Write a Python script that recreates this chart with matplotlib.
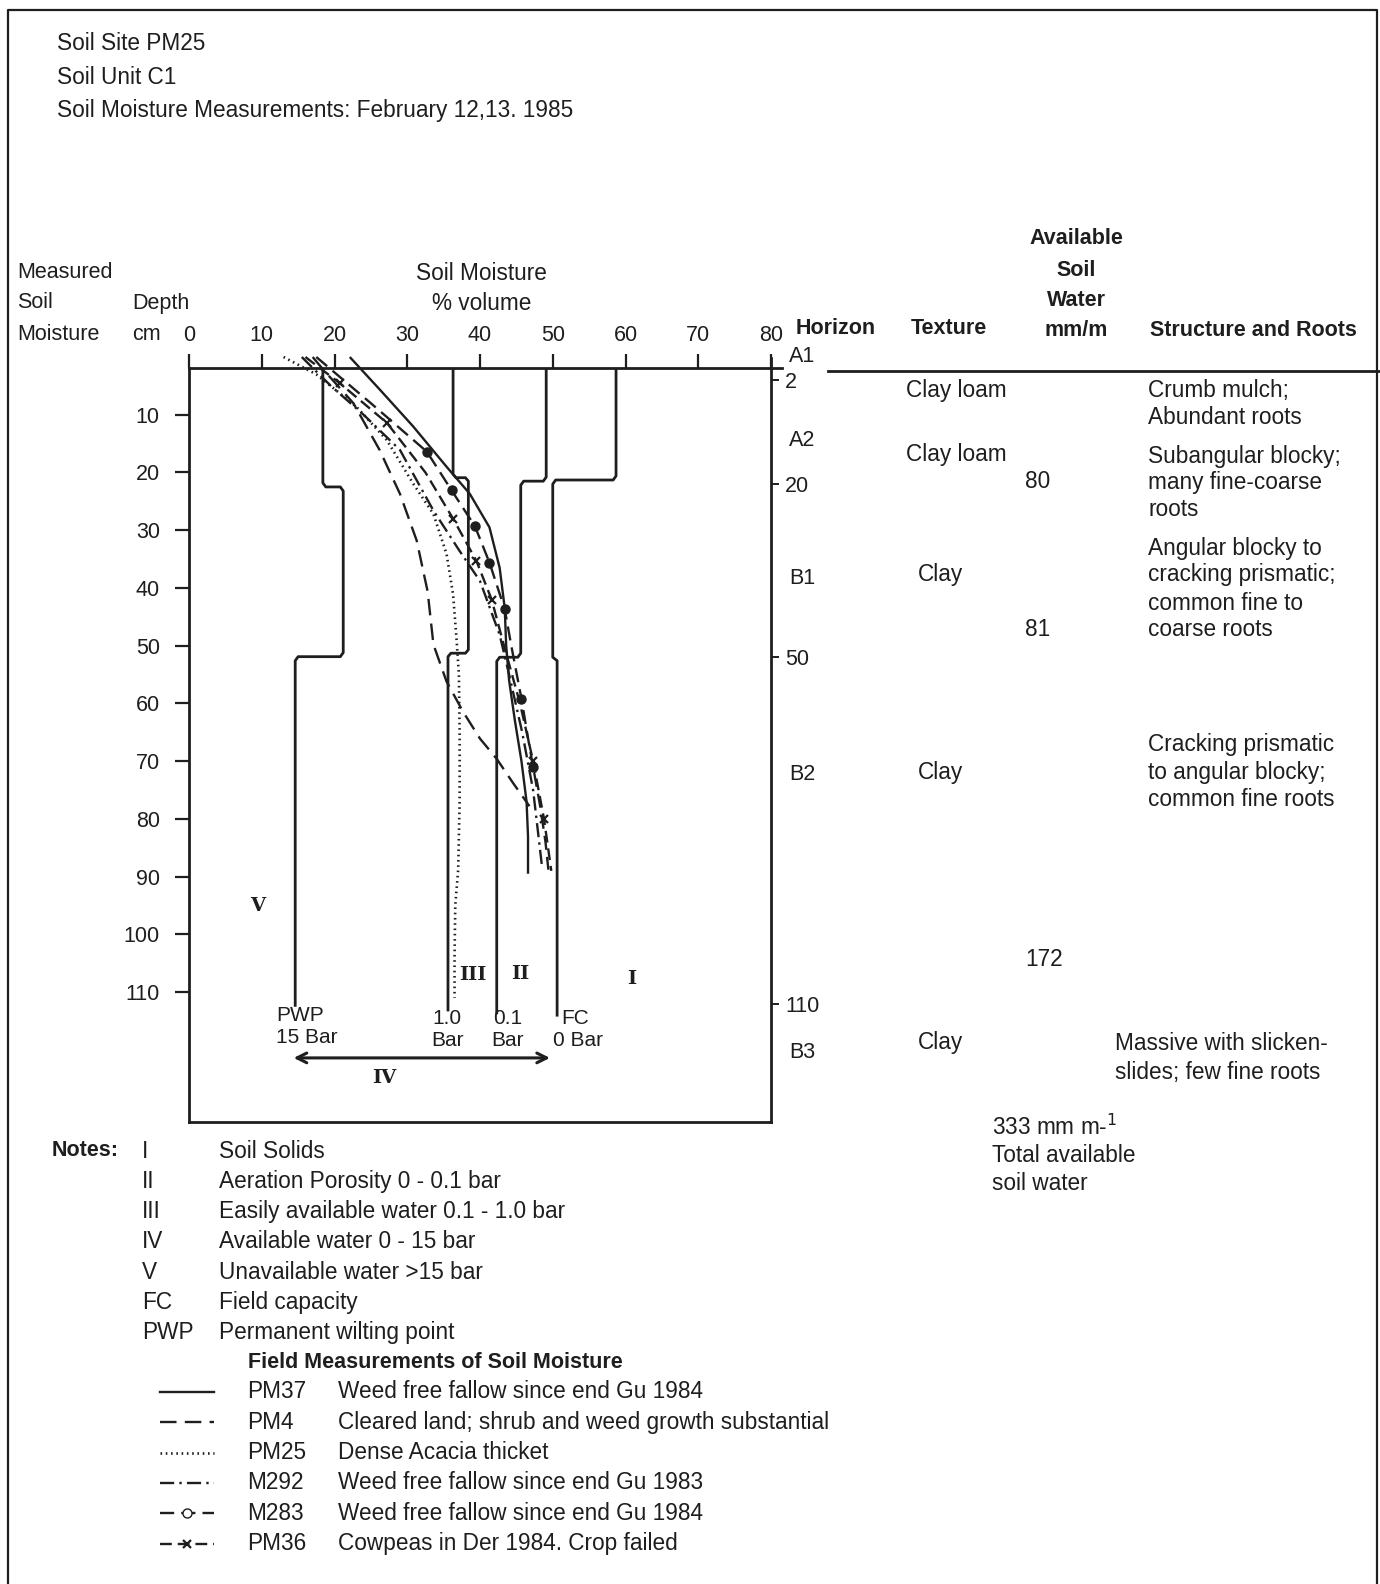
import matplotlib
matplotlib.use('Agg')
import matplotlib.pyplot as plt

plt.rcParams['font.family'] = ['Liberation Sans', 'DejaVu Sans']
INK = '#1e1e1e'
FS = 15.5     # tick labels, headings
FT = 16.3     # plain body text

# soil moisture (% volume) against depth (cm) at each site
pm37_depth = [0, 5.6, 12, 19, 23.7, 29.5, 36.5, 43.5, 50, 56, 63, 70, 77, 83, 89.5]
pm37_moist = [22.1, 26.2, 30.8, 35.4, 38.6, 41.3, 42.7, 43.4, 43.6, 44.0, 44.8, 45.7, 46.4, 46.6, 46.6]

pm4_depth = [0, 2.1, 8, 16.1, 23.7, 31.8, 40.6, 49.8, 56.2, 61.5, 66.1, 69.6, 73.7, 77.8]
pm4_moist = [17.0, 18.4, 22.6, 26.2, 29.0, 31.3, 32.8, 33.6, 35.4, 37.7, 40.0, 42.3, 44.5, 46.8]

pm25_depth = [0, 3, 8.6, 14.4, 21.9, 27.2, 34.1, 41.1, 49.3, 55, 65, 77, 88.8, 95, 104, 111]
pm25_moist = [13.0, 17.5, 23.0, 27.2, 30.8, 33.6, 35.4, 36.3, 36.8, 37.1, 37.2, 37.2, 37.0, 36.6, 36.5, 36.5]

m292_depth = [0, 5, 10, 16.1, 26.6, 33.6, 38.8, 48.1, 55, 65, 75, 88]
m292_moist = [15.5, 19.5, 24.0, 29.0, 33.6, 37.2, 40.0, 42.7, 44.0, 45.8, 47.3, 48.5]

m283_depth = [0, 8, 16.4, 23.1, 29.3, 35.6, 43.7, 50, 59.2, 66, 71, 78, 84, 88.8]
m283_moist = [17.5, 25.0, 32.7, 36.1, 39.3, 41.3, 43.4, 44.3, 45.7, 46.6, 47.3, 48.3, 49.0, 49.4]

pm36_depth = [0, 4.5, 11.4, 20, 28, 35.3, 42, 50, 60, 70, 80, 89]
pm36_moist = [16.0, 20.7, 27.2, 32.5, 36.3, 39.5, 41.6, 43.3, 45.5, 47.3, 48.8, 49.8]

# moisture at 15 bar (PWP), 1.0 bar, 0.1 bar and 0 bar (FC) down the profile
pwp_depth = [1.9, 21.8, 22.5, 22.5, 23.2, 51.2, 51.9, 51.9, 52.6, 112.3]
pwp_moist = [18.4, 18.4, 18.8, 20.8, 21.2, 21.2, 20.8, 15.0, 14.6, 14.6]
bar10_depth = [1.9, 20.3, 20.9, 20.9, 21.5, 50.7, 51.3, 51.3, 51.9, 113.1]
bar10_moist = [36.3, 36.3, 36.7, 38.0, 38.4, 38.4, 38.0, 36.0, 35.6, 35.6]
bar01_depth = [1.9, 20.8, 21.5, 21.5, 22.2, 51.3, 52.0, 52.0, 52.7, 113.6]
bar01_moist = [49.1, 49.1, 48.7, 46.0, 45.6, 45.6, 45.2, 42.7, 42.3, 42.3]
fc_depth = [1.9, 20.6, 21.3, 21.3, 22.0, 52.0, 52.6, 114.0]
fc_moist = [58.7, 58.7, 58.3, 50.4, 50.0, 50.0, 50.6, 50.6]

horizon_ticks = [2, 20, 50, 110]

series = [
    ('PM37', 'Weed free fallow since end Gu 1984', pm37_moist, pm37_depth,
     dict(ls='-', lw=1.7)),
    ('PM4', 'Cleared land; shrub and weed growth substantial', pm4_moist, pm4_depth,
     dict(ls=(0, (7, 3.5)), lw=1.7)),
    ('PM25', 'Dense Acacia thicket', pm25_moist, pm25_depth,
     dict(ls=(0, (0.6, 1.4)), lw=1.9)),
    ('M292', 'Weed free fallow since end Gu 1983', m292_moist, m292_depth,
     dict(ls=(0, (6, 2.2, 1, 2.2)), lw=1.7)),
    ('M283', 'Weed free fallow since end Gu 1984', m283_moist, m283_depth,
     dict(ls=(0, (6, 3)), lw=1.7, marker='o', ms=6.5, markevery=[2, 3, 4, 5, 6, 8, 10])),
    ('PM36', 'Cowpeas in Der 1984. Crop failed', pm36_moist, pm36_depth,
     dict(ls=(0, (5, 2.5)), lw=1.7, marker='x', ms=5.5, mew=1.6,
          markevery=[1, 2, 4, 5, 6, 9, 10])),
]

fig = plt.figure(figsize=(13.8, 15.84), dpi=100)

# page layer in pixel units for the frame and the text around the plot
ov = fig.add_axes([0, 0, 1, 1])
ov.set_xlim(0, 1380)
ov.set_ylim(1584, 0)
ov.axis('off')

ax = fig.add_axes([189 / 1380, 1 - 1122 / 1584, 582 / 1380, 754 / 1584])
ax.set_xlim(0, 80)
ax.set_ylim(132.5, 1.9)

for name, desc, x, y, st in series:
    ax.plot(x, y, color=INK, clip_on=False, solid_capstyle='butt', **st)

for x, y in [(pwp_moist, pwp_depth), (bar10_moist, bar10_depth),
             (bar01_moist, bar01_depth), (fc_moist, fc_depth)]:
    ax.plot(x, y, color=INK, lw=2.0, solid_joinstyle='round')

ax.xaxis.tick_top()
ax.set_xticks(range(0, 90, 10))
ax.set_yticks(range(10, 120, 10))
ax.tick_params(axis='x', direction='out', length=10, width=1.6, pad=6,
               labelsize=FS, colors=INK)
ax.tick_params(axis='y', direction='out', length=10, width=1.6, pad=11,
               labelsize=FS, colors=INK)
for sp in ax.spines.values():
    sp.set_linewidth(2.0)
    sp.set_color(INK)

# horizon depth scale on the right edge
tw = ax.twinx()
tw.set_ylim(130.5, 0.0)
tw.set_yticks(horizon_ticks)
tw.tick_params(axis='y', direction='out', length=6, width=1.4, pad=4,
               labelsize=FS, colors=INK)
for sp in tw.spines.values():
    sp.set_visible(False)

# labels inside the plot box
rom = dict(family='DejaVu Serif', weight='bold', fontsize=14, color=INK,
           ha='center', va='center')
ax.text(9.4, 95.1, 'V', **rom)
ax.text(39.0, 107.0, 'III', **rom)
ax.text(45.6, 106.9, 'II', **rom)
ax.text(60.8, 107.7, 'I', **rom)
ax.text(26.9, 124.9, 'IV', **rom)

lab = dict(fontsize=15, color=INK, va='center')
ax.text(12.0, 114.0, 'PWP', ha='left', **lab)
ax.text(12.0, 117.8, '15 Bar', ha='left', **lab)
ax.text(35.5, 114.6, '1.0', ha='center', **lab)
ax.text(35.5, 118.3, 'Bar', ha='center', **lab)
ax.text(43.8, 114.6, '0.1', ha='center', **lab)
ax.text(43.8, 118.3, 'Bar', ha='center', **lab)
ax.text(51.2, 114.6, 'FC', ha='left', **lab)
ax.text(50.1, 118.3, '0 Bar', ha='left', **lab)
ax.annotate('', xy=(50.0, 121.4), xytext=(14.0, 121.4),
            arrowprops=dict(arrowstyle='<->,head_length=0.7,head_width=0.35',
                            lw=2.2, color=INK))

# page frame and surface line
ov.plot([8, 8, 1377, 1377], [1584, 10, 10, 1584], color=INK, lw=1.6)
ov.plot([771, 782], [368, 368], color=INK, lw=2.0)
ov.plot([771, 771], [358, 368], color=INK, lw=2.0)
ov.plot([828, 1380], [371, 371], color=INK, lw=2.0)


def put(x, y, s, **kw):
    kw.setdefault('fontsize', FS if kw.get('weight') == 'bold' else FT)
    kw.setdefault('va', 'center')
    ov.text(x, y, s, color=INK, **kw)


put(57, 44, 'Soil Site PM25')
put(57, 77, 'Soil Unit C1')
put(57, 110, 'Soil Moisture Measurements: February 12,13. 1985')

put(17, 273, 'Measured', fontsize=FS)
put(17, 303, 'Soil', fontsize=FS)
put(17, 334, 'Moisture', fontsize=FS)
put(132, 303, 'Depth', fontsize=FS)
put(132, 334, 'cm', fontsize=FS)
put(481, 274, 'Soil Moisture', ha='center')
put(482, 304, '% volume', ha='center')

put(796, 329, 'Horizon', weight='bold')
put(911, 329, 'Texture', weight='bold')
for yy, s in zip([239, 270, 300, 331], ['Available', 'Soil', 'Water', 'mm/m']):
    put(1076, yy, s, weight='bold', ha='center')
put(1150, 330, 'Structure and Roots', weight='bold')

for yy, s in zip([357, 440, 579, 774, 1053], ['A1', 'A2', 'B1', 'B2', 'B3']):
    put(789, yy, s, fontsize=FS)

for yy, s in zip([390, 455, 575, 772, 1043], ['Clay loam', 'Clay loam', 'Clay', 'Clay', 'Clay']):
    put(906 if 'loam' in s else 918, yy, s)

put(1025, 482, '80')
put(1025, 629, '81')
put(1025, 960, '172')
put(992, 1127, '333 mm m-$^{1}$')
put(992, 1155, 'Total available')
put(992, 1183, 'soil water')

structure = [(390, 'Crumb mulch;'), (417, 'Abundant roots'),
             (456, 'Subangular blocky;'), (483, 'many fine-coarse'), (510, 'roots'),
             (548, 'Angular blocky to'), (575, 'cracking prismatic;'),
             (603, 'common fine to'), (630, 'coarse roots'),
             (745, 'Cracking prismatic'), (773, 'to angular blocky;'),
             (800, 'common fine roots')]
for yy, s in structure:
    put(1148, yy, s)
put(1115, 1044, 'Massive with slicken-')
put(1115, 1073, 'slides; few fine roots')

# notes
put(52, 1151, 'Notes:', weight='bold')
notes = [('I', 'Soil Solids'), ('II', 'Aeration Porosity 0 - 0.1 bar'),
         ('III', 'Easily available water 0.1 - 1.0 bar'),
         ('IV', 'Available water 0 - 15 bar'), ('V', 'Unavailable water >15 bar'),
         ('FC', 'Field capacity'), ('PWP', 'Permanent wilting point')]
for i, (code, text) in enumerate(notes):
    yy = 1151 + i * 30.3
    put(142, yy, code)
    put(219, yy, text)

put(248, 1362, 'Field Measurements of Soil Moisture', weight='bold')
for i, (name, desc, x, y, st) in enumerate(series):
    yy = 1392 + i * 30.3
    st = dict(st)
    if 'marker' in st:
        st['markevery'] = [1]
        st['mfc'] = 'white' if st['marker'] == 'o' else INK
    ov.plot([160, 187, 214], [yy, yy, yy], color=INK, **st)
    put(247, yy, name)
    put(338, yy, desc)

fig.savefig('out.png', dpi=100, facecolor='white')
